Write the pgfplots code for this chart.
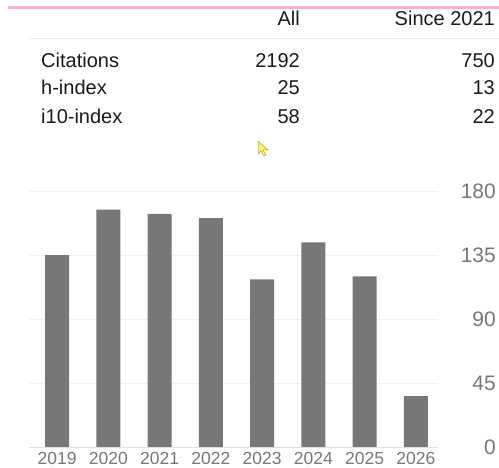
\documentclass[border=0pt]{standalone}
\usepackage{pgfplots}
\pgfplotsset{compat=1.18}
\usepackage{fontspec}
\setmainfont{Liberation Sans}
\definecolor{barg}{HTML}{777777}
\definecolor{lab}{HTML}{777777}
\definecolor{txt}{HTML}{1A1A1A}
\definecolor{pinkline}{HTML}{F2B6CC}
\definecolor{gridc}{HTML}{F1F1F1}
\begin{document}
\begin{tikzpicture}[x=1pt,y=1pt]
\path[use as bounding box] (0,0) rectangle (499,468);
% top pink rule
\fill[pinkline] (8,459) rectangle (499,462);
% header separator
\draw[gridc!80!gray!60, line width=1pt] (29,429) -- (499,429);
% table
\begin{scope}[every node/.style={inner sep=0pt, text=txt, font=\fontsize{20}{24}\selectfont}]
\node[anchor=base east] at (300,442) {All};
\node[anchor=base east] at (495,442) {Since 2021};
\node[anchor=base west] at (41,400.7) {Citations};
\node[anchor=base east] at (300,400.7) {2192};
\node[anchor=base east] at (495,400.7) {750};
\node[anchor=base west] at (41,373.7) {h-index};
\node[anchor=base east] at (300,373.7) {25};
\node[anchor=base east] at (495,373.7) {13};
\node[anchor=base west] at (41,344.7) {i10-index};
\node[anchor=base east] at (300,344.7) {58};
\node[anchor=base east] at (495,344.7) {22};
\end{scope}
% mouse cursor
\filldraw[fill=yellow!90!orange!60, draw=yellow!60!black, line width=0.5pt]
  (258,327) -- (258,314) -- (261,317) -- (264,312) -- (266,313) -- (263,318) -- (268,318) -- cycle;
\begin{axis}[
  at={(29pt,20.7pt)}, anchor=south west,
  scale only axis, width=409pt, height=256.3pt,
  xmin=-0.55, xmax=7.43, ymin=0, ymax=180,
  axis line style={draw=none},
  major tick length=0pt,
  xtick={0,...,7},
  xticklabels={2019,2020,2021,2022,2023,2024,2025,2026},
  xticklabel style={anchor=base, inner sep=0pt, yshift=-16.8pt, text=lab, font=\fontsize{17.5}{20}\selectfont},
  ytick={0,45,90,135,180},
  yticklabel pos=right,
  yticklabel style={anchor=east, inner sep=0pt, xshift=58pt, text=lab, font=\fontsize{21}{24}\selectfont},
  /pgf/number format/assume math mode=true,
  ymajorgrids, major grid style={draw=gridc, line width=0.8pt},
  clip=false,
]
\addplot[ybar, bar width=24pt, bar shift=0pt, fill=barg, draw=none]
  coordinates {(0,135) (1,167) (2,164) (3,161) (4,118) (5,144) (6,120) (7,36)};
\draw[gray!25, line width=0.8pt] (axis cs:-0.55,0) -- (axis cs:7.43,0);
\end{axis}
\end{tikzpicture}
\end{document}
